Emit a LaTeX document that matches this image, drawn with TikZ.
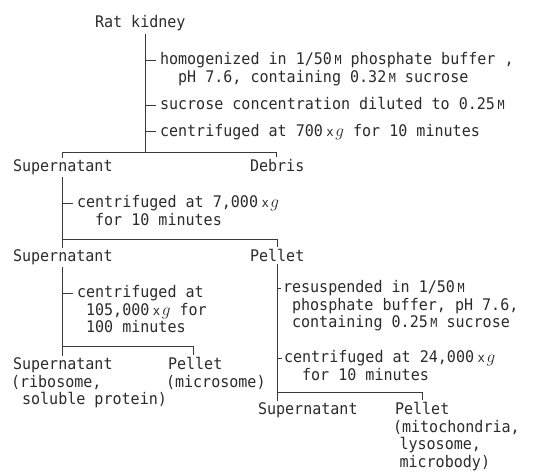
\documentclass[tikz,border=0pt]{standalone}
\usepackage{fontspec}
\setmainfont[FakeStretch=0.94]{DejaVu Sans Mono}
\definecolor{ink}{HTML}{2B2B2B}
\definecolor{wire}{HTML}{3A3A3A}
\newlength\cw
\setlength\cw{9.05pt}
\newcommand\smallM{{\fontsize{12.5pt}{12.5pt}\selectfont M}}
\newcommand\molar{\hspace{2.5pt}\smallM}
\newcommand\xg{\hspace{3.5pt}{\fontsize{13pt}{13pt}\selectfont x}\hspace{1.5pt}$g$}
\newcommand\ind[1]{\hspace*{#1\cw}}
\newcommand\stk[1]{\vtop{\baselineskip=17.5pt\lineskiplimit=-20pt #1}}
\begin{document}
\begin{tikzpicture}[x=1pt,y=-1pt,
  lbl/.style={anchor=base west,inner sep=0pt,outer sep=0pt,text=ink,
    font=\fontsize{16pt}{17.5pt}\selectfont},
  ln/.style={draw=wire,line width=0.9pt}]
\useasboundingbox (0,0) rectangle (533,472);

% ---------- nodes ----------
\node[lbl] (rat) at (95,27.5) {Rat kidney};
\node[lbl] (s1) at (160,64.5) {\stk{\hbox{homogenized in 1/50\molar{} phosphate buffer ,}\hbox{\ind{2}pH 7.6, containing 0.32\molar{} sucrose}}};
\node[lbl] (s2) at (160,109.5) {sucrose concentration diluted to 0.25\molar};
\node[lbl] (s3) at (160,136) {centrifuged at 700\xg{} for 10 minutes};

\node[lbl] (sup1) at (13,171.5) {Supernatant};
\node[lbl] (deb) at (250,171.5) {Debris};
\node[lbl] (s4) at (77,207.5) {\stk{\hbox{centrifuged at 7,000\xg}\hbox{\ind{2}for 10 minutes}}};

\node[lbl] (sup2) at (13,261.5) {Supernatant};
\node[lbl] (pel2) at (250,261.5) {Pellet};
\node[lbl] (s5) at (77,297.5) {\stk{\hbox{centrifuged at}\hbox{\ind{1}105,000\xg{} for}\hbox{\ind{1}100 minutes}}};
\node[lbl] (s6) at (283,292.5) {\stk{\hbox{resuspended in 1/50\molar}\hbox{\ind{1}phosphate buffer, pH 7.6,}\hbox{\ind{1}containing 0.25\molar{} sucrose}}};
\node[lbl] (s7) at (284,362.5) {\stk{\hbox{centrifuged at 24,000\xg}\hbox{\ind{2}for 10 minutes}}};

\node[lbl] (sup3) at (13,369.5) {\stk{\hbox{Supernatant}\hbox{\hspace*{-2pt}(ribosome,}\hbox{\ind{1}soluble protein)}}};
\node[lbl] (pel3) at (168,369.5) {\stk{\hbox{Pellet}\hbox{\hspace*{-2pt}(microsome)}}};

\node[lbl] (sup4) at (258,414.5) {Supernatant};
\node[lbl] (pel4) at (395,414.5) {\stk{\hbox{Pellet}\hbox{\hspace*{-2pt}(mitochondria,}\hbox{\ind{0.5}lysosome,}\hbox{\ind{0.5}microbody)}}};

% ---------- junction coordinates ----------
\coordinate (j1) at (145,152);
\coordinate (b1l) at (62,152);
\coordinate (b1r) at (276,152);
\coordinate (j2) at (62,239);
\coordinate (b2r) at (277,239);
\coordinate (j3) at (62,346);
\coordinate (b3r) at (193,346);
\coordinate (j4) at (277,392);
\coordinate (b4r) at (422,392);

% tick anchor points (x-height middle of first line)
\foreach \s in {s1,s2,s3,s4,s5,s6,s7}{
  \coordinate (\s t) at ([yshift=4.4pt]\s.base west);
}

% ---------- connectors ----------
% stage 1
\draw[ln] ([yshift=-3pt]rat.south -| j1) -- (j1);
\foreach \s in {s1,s2,s3}{ \draw[ln] (\s t -| j1) -- ([xshift=-4pt]\s t); }
\draw[ln] ([yshift=2pt]sup1.north -| b1l) -- (b1l) -- (b1r) -- ([yshift=2pt]deb.north -| b1r);

% stage 2
\draw[ln] ([yshift=-2pt]sup1.south -| j2) -- (j2);
\draw[ln] (s4t -| j2) -- ([xshift=-4pt]s4t);
\draw[ln] ([yshift=2pt]sup2.north -| j2) -- (j2) -- (b2r) -- ([yshift=2pt]pel2.north -| b2r);

% stage 3 (supernatant branch)
\draw[ln] ([yshift=-2pt]sup2.south -| j3) -- (j3);
\draw[ln] (s5t -| j3) -- ([xshift=-4pt]s5t);
\draw[ln] ([yshift=2pt]sup3.north -| j3) -- (j3) -- (b3r) -- ([yshift=2pt]pel3.north -| b3r);

% stage 3 (pellet branch)
\draw[ln] ([yshift=-2pt]pel2.south -| j4) -- (j4);
\draw[ln] (s6t -| j4) -- ([xshift=-2pt]s6t);
\draw[ln] (s7t -| j4) -- ([xshift=-2pt]s7t);
\draw[ln] ([yshift=2pt]sup4.north -| j4) -- (j4) -- (b4r) -- ([yshift=2pt]pel4.north -| b4r);
\end{tikzpicture}
\end{document}
